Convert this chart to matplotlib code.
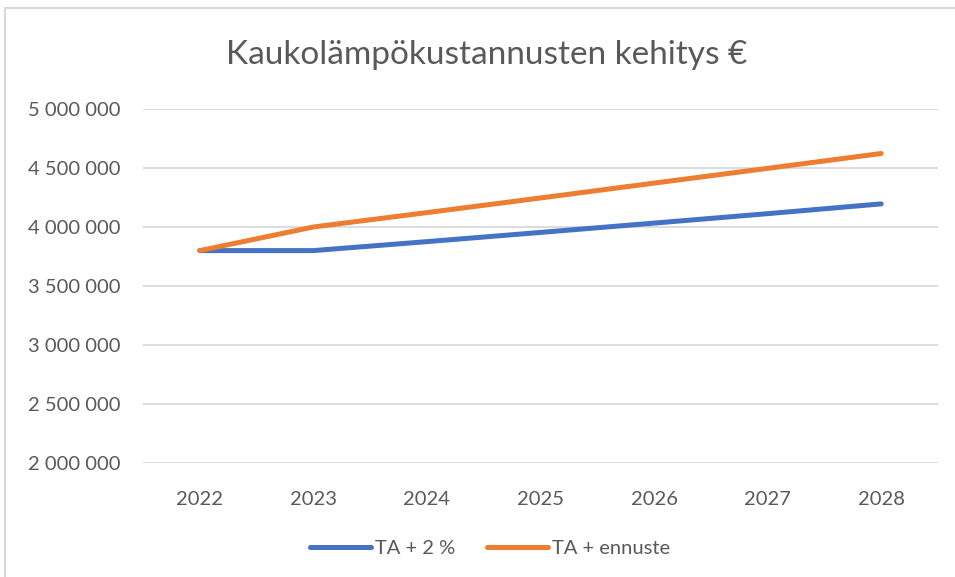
import matplotlib.pyplot as plt
from matplotlib.patches import Rectangle
from matplotlib.ticker import FuncFormatter

years = ["2022", "2023", "2024", "2025", "2026", "2027", "2028"]
ta_2pct = [3800000, 3800000, 3876000, 3954000, 4033000, 4113000, 4196000]
ta_ennuste = [3800000, 4000000, 4122000, 4246000, 4372000, 4497000, 4623000]

plt.rcParams['font.family'] = ['Lato', 'DejaVu Sans']
text_col = "#595959"
grid_col = "#d9d9d9"

fig = plt.figure(figsize=(9.55, 5.77), dpi=100)
ax = fig.add_axes([143/955, 1 - 463/577, (938 - 143)/955, (463 - 109)/577])

x = list(range(len(years)))
ax.plot(x, ta_2pct, color="#4472c4", linewidth=3.6, solid_capstyle="round", label="TA + 2 %")
ax.plot(x, ta_ennuste, color="#ed7d31", linewidth=3.6, solid_capstyle="round", label="TA + ennuste")

ax.set_xlim(-0.5, len(years) - 0.5)
ax.set_ylim(2000000, 5000000)
ax.set_yticks(range(2000000, 5000001, 500000))
ax.yaxis.set_major_formatter(FuncFormatter(lambda v, p: f"{int(v):,}".replace(",", " ")))
ax.set_xticks(x)
ax.set_xticklabels(years)

ax.grid(axis="y", color=grid_col, linewidth=1.3)
ax.set_axisbelow(True)
for s in ax.spines.values():
    s.set_visible(False)
ax.tick_params(length=0, labelsize=14.5, colors=text_col)
ax.tick_params(axis="y", pad=16)
ax.tick_params(axis="x", pad=20)

fig.text(487/955, 1 - 55/577, "Kaukolämpökustannusten kehitys €", ha="center", va="center",
         fontsize=24, color=text_col)

leg = fig.legend(loc="center", bbox_to_anchor=(490/955, 1 - 548/577), ncol=2, frameon=False,
                 fontsize=14.5, handlelength=3.0, handletextpad=0.2, columnspacing=1.6)
for t in leg.get_texts():
    t.set_color(text_col)

# chart frame
fig.patches.append(Rectangle((5/955, -0.1), 1.2, 1 - 8/577 + 0.1, transform=fig.transFigure,
                             fill=False, edgecolor=grid_col, linewidth=1.5))

fig.savefig("out.png", dpi=100)
